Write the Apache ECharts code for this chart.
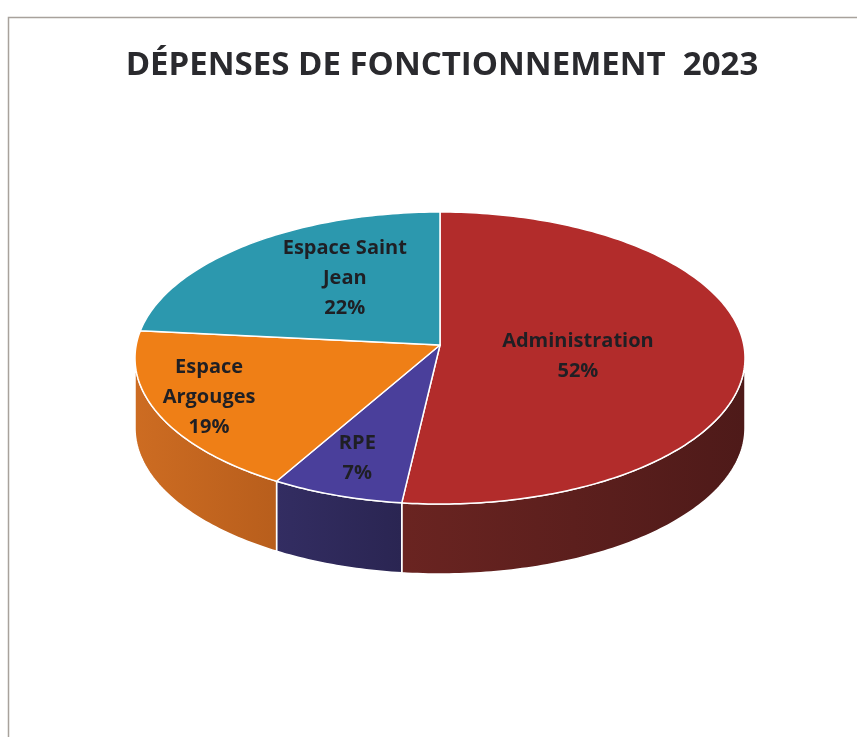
<!DOCTYPE html>
<html>
<head>
<meta charset="utf-8">
<script src="https://cdn.jsdelivr.net/npm/echarts@6/dist/echarts.min.js"></script>
<style>
html,body{margin:0;padding:0;background:#fff;}
#chart{width:857px;height:737px;}
</style>
</head>
<body>
<div id="chart"></div>
<script>
// ---- data ----
const categories = ['Administration', 'RPE', 'Espace Argouges', 'Espace Saint Jean'];
const values = [52, 7, 19, 22];
const labelNames = ['Administration', 'RPE', 'Espace\nArgouges', 'Espace Saint\nJean'];
const titleText = 'DÉPENSES DE FONCTIONNEMENT  2023';

// ---- style ----
const topColors = ['#B22C2B', '#4A3F9B', '#EF7F16', '#2C98AE'];
const sideColors = [['#6A2421', '#4E1A19'], ['#332D62', '#2A2552'], ['#CD6C22', '#B85E1C'], ['#1E6B7A', '#1E6B7A']];
const labelRadius = [0.44, 0.8, 0.8, 0.5];
const labelOffset = [[4, 7], [0, 3], [-7, 6], [2, -10]];
const CX = 440, CY = 358, RX = 305, RY = 146, APEX_Y = 345, DEPTH = 70;

const total = values.reduce((a, b) => a + b, 0);
const starts = [];
(function () { let acc = 0; values.forEach(v => { starts.push(acc / total * 360); acc += v; }); })();

function rim(deg, dy) {
  const r = deg * Math.PI / 180;
  return [CX + RX * Math.sin(r), CY - RY * Math.cos(r) + (dy || 0)];
}
function arcPts(a0, a1, dy) {
  const pts = [];
  const n = Math.max(2, Math.ceil(Math.abs(a1 - a0)));
  for (let i = 0; i <= n; i++) pts.push(rim(a0 + (a1 - a0) * i / n, dy));
  return pts;
}

function sideItem(params, api) {
  const i = params.dataIndex;
  const v = api.value(1);
  const a0 = starts[i], a1 = a0 + v / total * 360;
  const s = Math.max(a0, 90), e = Math.min(a1, 270);
  if (e <= s) return { type: 'group', children: [] };
  const top = arcPts(s, e, 0);
  const bot = arcPts(e, s, DEPTH);
  return {
    type: 'polygon',
    shape: { points: top.concat(bot) },
    style: {
      fill: new echarts.graphic.LinearGradient(0, 0, 1, 0, [
        { offset: 0, color: sideColors[i][0] }, { offset: 1, color: sideColors[i][1] }
      ]),
      stroke: '#ffffff', lineWidth: 1.5, lineJoin: 'round'
    }
  };
}

function topItem(params, api) {
  const i = params.dataIndex;
  const v = api.value(1);
  const a0 = starts[i], a1 = a0 + v / total * 360;
  const pts = [[CX, APEX_Y]].concat(arcPts(a0, a1, 0));
  const mid = (a0 + a1) / 2 * Math.PI / 180;
  const f = labelRadius[i];
  const lx = CX + RX * f * Math.sin(mid) + labelOffset[i][0];
  const ly = APEX_Y - RY * f * Math.cos(mid) + labelOffset[i][1];
  const pct = Math.round(v / total * 100) + '%';
  return {
    type: 'group',
    children: [
      {
        type: 'polygon',
        shape: { points: pts },
        style: { fill: topColors[i], stroke: '#ffffff', lineWidth: 1.5, lineJoin: 'round' }
      },
      {
        type: 'text',
        z2: 10,
        style: {
          text: labelNames[i] + '\n' + pct,
          x: lx, y: ly,
          align: 'center', verticalAlign: 'middle',
          fontFamily: '"Open Sans", sans-serif', fontWeight: 'bold', fontSize: 20,
          lineHeight: 30, fill: '#1f1f24'
        }
      }
    ]
  };
}

const seriesData = categories.map((c, i) => [c, values[i]]);

const chart = echarts.init(document.getElementById('chart'), null, { renderer: 'canvas' });
chart.setOption({
  animation: false,
  backgroundColor: '#ffffff',
  title: {
    text: titleText, left: 437, textAlign: 'center', top: 44,
    textStyle: { fontFamily: '"Open Sans", sans-serif', fontWeight: 'bold', fontSize: 33, color: '#2a2a2e' }
  },
  graphic: [{
    type: 'rect', shape: { x: 8.5, y: 17.5, width: 900, height: 800 },
    style: { fill: 'none', stroke: '#a8a29c', lineWidth: 1.5 }, silent: true
  }],
  series: [
    { type: 'custom', coordinateSystem: 'none', renderItem: sideItem, data: seriesData, z: 1 },
    { type: 'custom', coordinateSystem: 'none', renderItem: topItem, data: seriesData, z: 2 }
  ]
});
</script>
</body>
</html>
